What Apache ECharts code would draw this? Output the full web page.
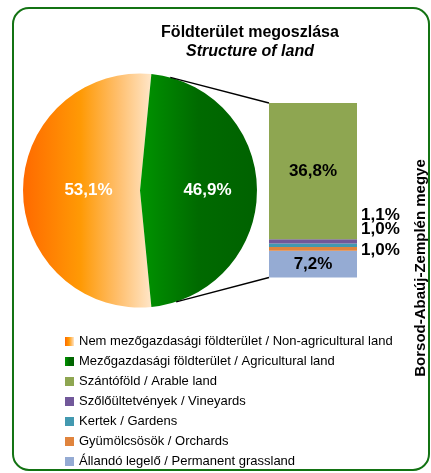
<!DOCTYPE html>
<html>
<head>
	<meta charset="UTF-8">
	<title>Földterület megoszlása</title>
	<script src="https://cdn.jsdelivr.net/npm/echarts@6/dist/echarts.min.js"></script>
	<style>
		html, body { margin: 0; padding: 0; background: #fff; }
		#chart { width: 431px; height: 473px; }
	</style>
</head>
<body>
<div id="chart"></div>
<script type="text/javascript">

	// adatok / data
	var pieNames = ['Nem mezőgazdasági földterület / Non-agricultural land', 'Mezőgazdasági földterület / Agricultural land'];
	var pieValues = [53.1, 46.9];

	var barNames = ['Állandó legelő / Permanent grassland', 'Gyümölcsösök / Orchards', 'Kertek / Gardens', 'Szőlőültetvények / Vineyards', 'Szántóföld / Arable land'];
	var barValues = [7.2, 1.0, 1.0, 1.1, 36.8];
	var barColors = ['#95abd3', '#e0843d', '#4399b0', '#71589a', '#8ea651'];

	var legendOrder = [pieNames[0], pieNames[1], barNames[4], barNames[3], barNames[2], barNames[1], barNames[0]];

	var pieCenter = [140, 190.5];
	var pieRadius = 117;
	var barGrid = { left: 269, top: 103, width: 88, height: 174.5 };

	function pct(v) {
		return v.toFixed(1).replace('.', ',') + '%';
	}

	var orangeFill = new echarts.graphic.LinearGradient(0, 0, 1, 0, [
		{ offset: 0, color: '#ff6a00' },
		{ offset: 0.45, color: '#ff9a05' },
		{ offset: 0.75, color: '#ffc070' },
		{ offset: 1, color: '#ffe6c8' }
	]);
	var greenFill = new echarts.graphic.LinearGradient(0, 0, 1, 0, [
		{ offset: 0, color: '#009400' },
		{ offset: 0.5, color: '#006a00' },
		{ offset: 1, color: '#006200' }
	]);

	// kis címkék eltolása (a szegmens mellett egymás alatt)
	var smallOffsets = { 1: [0, 1], 2: [0, -16], 3: [0, -26] };

	var barSeries = [];
	for (var i = 0; i < barValues.length; i++) {
		var big = barValues[i] > 5;
		barSeries.push({
			name: barNames[i],
			type: 'bar',
			stack: 'agri',
			barWidth: '100%',
			xAxisIndex: 0,
			yAxisIndex: 0,
			data: [barValues[i]],
			itemStyle: { color: barColors[i] },
			label: {
				show: true,
				position: big ? 'inside' : 'right',
				distance: 4,
				offset: big ? [0, 0] : smallOffsets[i],
				formatter: function (p) { return pct(p.value); },
				color: '#000',
				fontFamily: 'Liberation Sans, Arial, sans-serif',
				fontWeight: 'bold',
				fontSize: 17
			}
		});
	}

	var pieSeries = {
		name: 'Földterület',
		type: 'pie',
		center: pieCenter,
		radius: pieRadius,
		startAngle: -pieValues[1] / 2 * 3.6,
		clockwise: true,
		silent: true,
		label: {
			show: true,
			position: 'inside',
			formatter: function (p) { return pct(p.value); },
			color: '#fff',
			fontFamily: 'Liberation Sans, Arial, sans-serif',
			fontWeight: 'bold',
			fontSize: 17
		},
		labelLine: { show: false },
		itemStyle: { borderWidth: 0 },
		data: [
			{ name: pieNames[0], value: pieValues[0], itemStyle: { color: orangeFill }, label: { offset: [10, 0] } },
			{ name: pieNames[1], value: pieValues[1], itemStyle: { color: greenFill }, label: { offset: [6, 0] } }
		]
	};

	// összekötő vonalak a körcikktől az oszlopig
	function piePoint(deg) {
		var a = deg * Math.PI / 180;
		return [pieCenter[0] + pieRadius * Math.cos(a), pieCenter[1] - pieRadius * Math.sin(a)];
	}
	var pTop = piePoint(75);
	var pBot = piePoint(-72);

	var option = {
		animation: false,
		title: {
			text: 'Földterület megoszlása',
			subtext: 'Structure of land',
			left: 245,
			top: 20,
			textAlign: 'center',
			itemGap: 3,
			textStyle: { fontFamily: 'Liberation Sans, Arial, sans-serif', fontSize: 16, fontWeight: 'bold', color: '#000' },
			subtextStyle: { fontFamily: 'Liberation Sans, Arial, sans-serif', fontSize: 16, fontWeight: 'bold', fontStyle: 'italic', color: '#000' }
		},
		legend: {
			orient: 'vertical',
			left: 65,
			top: 335,
			height: 140,
			padding: 0,
			itemWidth: 9,
			itemHeight: 9,
			itemGap: 7,
			icon: 'rect',
			selectedMode: false,
			data: legendOrder,
			textStyle: { fontFamily: 'Liberation Sans, Arial, sans-serif', fontSize: 13, color: '#000' }
		},
		grid: barGrid,
		xAxis: { type: 'category', data: ['agri'], show: false },
		yAxis: { type: 'value', min: 0, max: 47.1, show: false },
		graphic: [
			{
				type: 'rect',
				shape: { x: 13, y: 8, width: 416, height: 462, r: 16 },
				style: { fill: 'none', stroke: '#137313', lineWidth: 2 },
				silent: true
			},
			{
				type: 'line',
				shape: { x1: pTop[0], y1: pTop[1], x2: barGrid.left, y2: barGrid.top },
				style: { stroke: '#000', lineWidth: 1.3 },
				z: 10
			},
			{
				type: 'line',
				shape: { x1: pBot[0], y1: pBot[1], x2: barGrid.left, y2: barGrid.top + barGrid.height },
				style: { stroke: '#000', lineWidth: 1.3 },
				z: 10
			},
			{
				type: 'text',
				x: 421,
				y: 268,
				rotation: Math.PI / 2,
				style: {
					text: 'Borsod-Abaúj-Zemplén megye',
					fontFamily: 'Liberation Sans, Arial, sans-serif',
					fontSize: 15,
					fontWeight: 'bold',
					fill: '#000',
					align: 'center',
					verticalAlign: 'middle'
				}
			}
		],
		series: [pieSeries].concat(barSeries)
	};

	var myChart = echarts.init(document.getElementById('chart'));
	myChart.setOption(option);

</script>
</body>
</html>
